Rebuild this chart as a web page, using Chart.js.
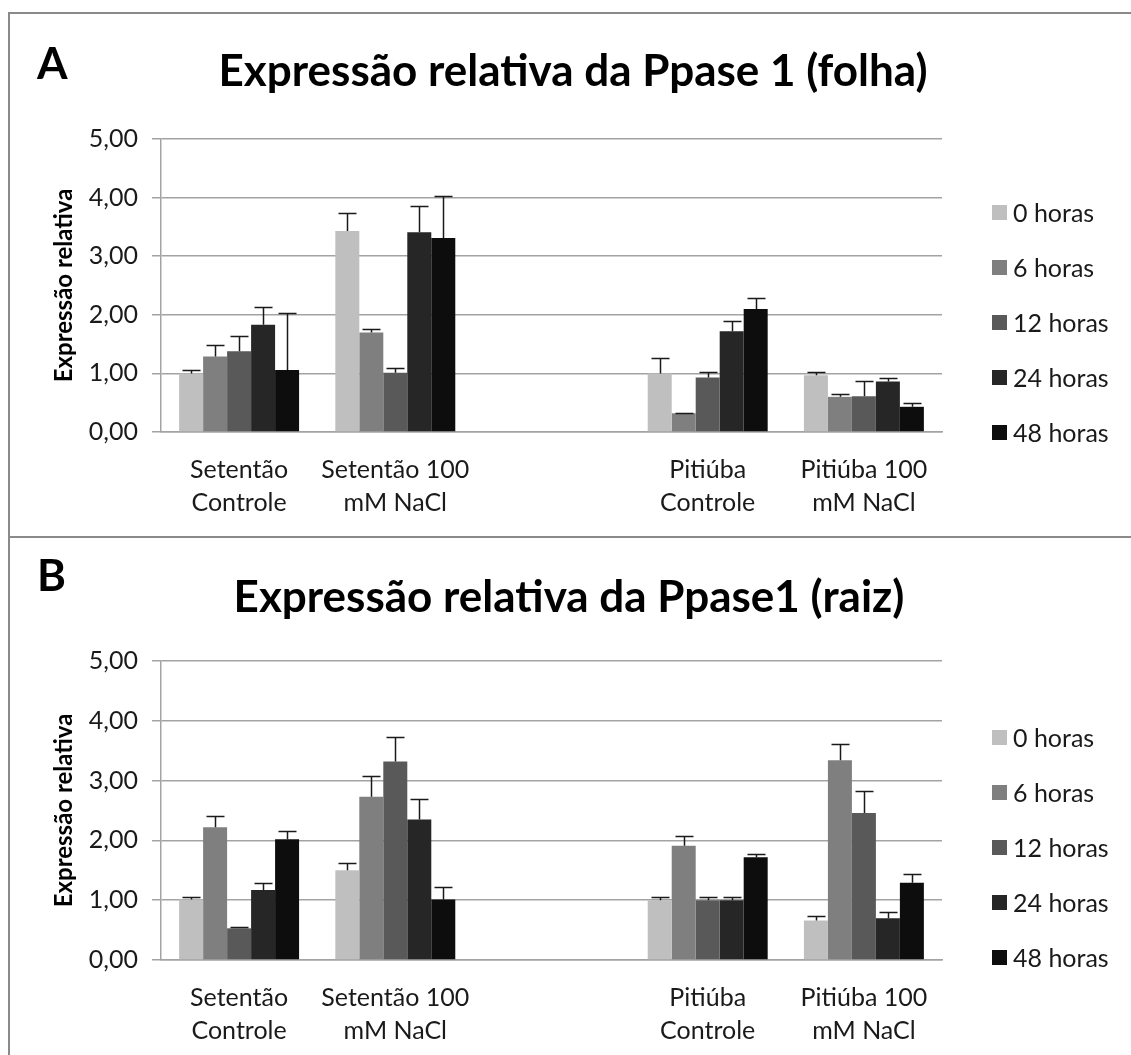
<!DOCTYPE html>
<html lang="pt">
<head>
<meta charset="utf-8">
<title>Expressão relativa da Ppase 1</title>
<script src="https://cdn.jsdelivr.net/npm/chart.js@4.4.1/dist/chart.umd.min.js"></script>
<style>
  html, body { margin: 0; padding: 0; background: #ffffff; }
  body { width: 1131px; height: 1055px; position: relative; overflow: hidden; }
  #frame { position: absolute; left: 8px; top: 12px; width: 1123px; height: 1043px;
           border-left: 2px solid #8a8a8a; border-top: 2px solid #8a8a8a; box-sizing: border-box; }
  .panel { position: absolute; left: 0; width: 1121px; }
  .panel canvas { position: absolute; left: 0; top: 0; }
  #sep { position: absolute; left: 0; width: 1121px; top: 522px; height: 2px; background: #8a8a8a; }
</style>
</head>
<body>
<div id="frame">
  <div class="panel" style="top:0; height:522px;">
    <canvas id="chartFolha" width="1121" height="522"></canvas>
  </div>
  <div id="sep"></div>
  <div class="panel" style="top:524px; height:517px;">
    <canvas id="chartRaiz" width="1121" height="517"></canvas>
  </div>
</div>
<script>
// Treatments on the x axis (the empty slot separates the two cultivars)
const categories = [
  ['Setentão', 'Controle'],
  ['Setentão 100', 'mM NaCl'],
  '',
  ['Pitiúba', 'Controle'],
  ['Pitiúba 100', 'mM NaCl']
];
const seriesNames = ['0 horas', '6 horas', '12 horas', '24 horas', '48 horas'];
const seriesColors = ['#bfbfbf', '#7f7f7f', '#595959', '#262626', '#0d0d0d'];
const yTickLabels = ['0,00', '1,00', '2,00', '3,00', '4,00', '5,00'];

// Leaf (folha): means per time point
const folha0h  = [1.00, 3.43, null, 1.00, 0.97];
const folha6h  = [1.29, 1.70, null, 0.32, 0.60];
const folha12h = [1.38, 1.01, null, 0.93, 0.61];
const folha24h = [1.83, 3.41, null, 1.72, 0.86];
const folha48h = [1.06, 3.31, null, 2.10, 0.43];
// Leaf: upper error (standard deviation)
const folhaErr0h  = [0.05, 0.31, null, 0.26, 0.06];
const folhaErr6h  = [0.19, 0.06, null, 0.01, 0.05];
const folhaErr12h = [0.26, 0.09, null, 0.10, 0.26];
const folhaErr24h = [0.31, 0.45, null, 0.17, 0.06];
const folhaErr48h = [0.97, 0.72, null, 0.19, 0.06];

// Root (raiz): means per time point
const raiz0h  = [1.01, 1.50, null, 1.00, 0.66];
const raiz6h  = [2.22, 2.73, null, 1.91, 3.34];
const raiz12h = [0.53, 3.32, null, 1.00, 2.46];
const raiz24h = [1.17, 2.35, null, 1.00, 0.70];
const raiz48h = [2.02, 1.01, null, 1.72, 1.29];
// Root: upper error (standard deviation)
const raizErr0h  = [0.04, 0.12, null, 0.06, 0.08];
const raizErr6h  = [0.19, 0.34, null, 0.17, 0.27];
const raizErr12h = [0.03, 0.41, null, 0.06, 0.36];
const raizErr24h = [0.12, 0.34, null, 0.06, 0.10];
const raizErr48h = [0.13, 0.21, null, 0.05, 0.15];

const FONT = 'Lato, "Open Sans", sans-serif';

// Upper error bars with caps, placed through the y scale
const errorBars = {
  id: 'errorBars',
  afterDatasetsDraw(chart, args, opts) {
    const { ctx } = chart;
    const yScale = chart.scales.y;
    ctx.save();
    ctx.strokeStyle = opts.color;
    ctx.lineWidth = opts.width;
    chart.data.datasets.forEach((ds, i) => {
      const meta = chart.getDatasetMeta(i);
      meta.data.forEach((bar, j) => {
        const v = ds.data[j];
        const e = ds.errors[j];
        if (v == null || e == null) return;
        const yTop = Math.round(yScale.getPixelForValue(v + e)) + 0.5;
        const x = Math.round(bar.x) + 0.5;
        ctx.beginPath();
        ctx.moveTo(x, bar.y);
        ctx.lineTo(x, yTop);
        ctx.moveTo(x - opts.cap / 2, yTop);
        ctx.lineTo(x + opts.cap / 2, yTop);
        ctx.stroke();
      });
    });
    ctx.restore();
  }
};

// Legend column to the right of the plot
const sideLegend = {
  id: 'sideLegend',
  afterDraw(chart, args, opts) {
    const { ctx, chartArea } = chart;
    const n = chart.data.datasets.length;
    const mid = (chartArea.top + chartArea.bottom) / 2 + opts.offsetY;
    ctx.save();
    ctx.font = opts.font;
    ctx.textBaseline = 'middle';
    ctx.textAlign = 'left';
    chart.data.datasets.forEach((ds, i) => {
      const cy = mid + (i - (n - 1) / 2) * opts.spacing;
      ctx.fillStyle = ds.backgroundColor;
      ctx.fillRect(opts.x, Math.round(cy - opts.box / 2), opts.box, opts.box);
      ctx.fillStyle = opts.color;
      ctx.fillText(ds.label, opts.x + opts.box + opts.gap, cy + 1);
    });
    ctx.restore();
  }
};

// Panel letter and heading line above the plot
const panelHeading = {
  id: 'panelHeading',
  afterDraw(chart, args, opts) {
    const { ctx } = chart;
    ctx.save();
    ctx.fillStyle = '#000000';
    ctx.textBaseline = 'alphabetic';
    ctx.font = opts.font;
    ctx.textAlign = 'center';
    ctx.fillText(opts.text, opts.x, opts.baseline);
    ctx.textAlign = 'left';
    ctx.fillText(opts.tag, opts.tagX, opts.tagBaseline);
    ctx.restore();
  }
};

function buildChart(canvasId, tag, titleText, series, errors, layout) {
  const datasets = series.map((data, i) => ({
    label: seriesNames[i],
    data: data,
    errors: errors[i],
    backgroundColor: seriesColors[i],
    borderWidth: 0,
    categoryPercentage: 0.768,
    barPercentage: 1.0
  }));
  return new Chart(document.getElementById(canvasId), {
    type: 'bar',
    data: { labels: categories, datasets: datasets },
    plugins: [errorBars, sideLegend, panelHeading],
    options: {
      responsive: false,
      animation: false,
      events: [],
      layout: { padding: { left: 0, right: 189, top: layout.plotTop, bottom: 0 } },
      plugins: {
        legend: { display: false },
        tooltip: { enabled: false },
        title: { display: false },
        panelHeading: { text: titleText, tag: tag, font: 'bold 44px ' + FONT,
                        x: layout.titleX, baseline: layout.titleBaseline,
                        tagX: 27, tagBaseline: layout.tagBaseline },
        errorBars: { color: '#1a1a1a', width: 1.5, cap: 18 },
        sideLegend: { x: 982, box: 15, gap: 6, spacing: 55, offsetY: 37,
                      font: '25px ' + FONT, color: '#1a1a1a' }
      },
      scales: {
        x: {
          grid: { display: false, drawTicks: false },
          border: { display: true, color: '#a3a3a3', width: 1.5 },
          ticks: { color: '#1a1a1a', padding: 21, maxRotation: 0, autoSkip: false,
                   font: { family: FONT, size: 25, lineHeight: 1.32 } },
          afterFit: (s) => { s.height = layout.xHeight; }
        },
        y: {
          min: 0,
          max: 5,
          ticks: { stepSize: 1, color: '#1a1a1a', padding: 14,
                   font: { family: FONT, size: 25 },
                   callback: (v, i) => yTickLabels[i] },
          grid: { color: '#a3a3a3', lineWidth: 1.5, tickLength: 9, drawTicks: true },
          border: { display: true, color: '#a3a3a3', width: 1.5 },
          title: { display: true, text: 'Expressão relativa', color: '#000000',
                   font: { family: FONT, size: 24, weight: 'bold', lineHeight: 1.2 },
                   padding: { top: 40, bottom: 0 } },
          afterFit: (s) => { s.width = 151; }
        }
      }
    }
  });
}

function draw() {
  buildChart('chartFolha', 'A', 'Expressão relativa da Ppase 1 (folha)',
    [folha0h, folha6h, folha12h, folha24h, folha48h],
    [folhaErr0h, folhaErr6h, folhaErr12h, folhaErr24h, folhaErr48h],
    { plotTop: 125, xHeight: 104, titleX: 563, titleBaseline: 72, tagBaseline: 65 });
  buildChart('chartRaiz', 'B', 'Expressão relativa da Ppase1 (raiz)',
    [raiz0h, raiz6h, raiz12h, raiz24h, raiz48h],
    [raizErr0h, raizErr6h, raizErr12h, raizErr24h, raizErr48h],
    { plotTop: 123, xHeight: 95, titleX: 559, titleBaseline: 74, tagBaseline: 53 });
}

if (document.fonts && document.fonts.load) {
  Promise.all([
    document.fonts.load('bold 44px Lato'),
    document.fonts.load('25px Lato')
  ]).then(draw, draw);
} else {
  draw();
}
</script>
</body>
</html>
